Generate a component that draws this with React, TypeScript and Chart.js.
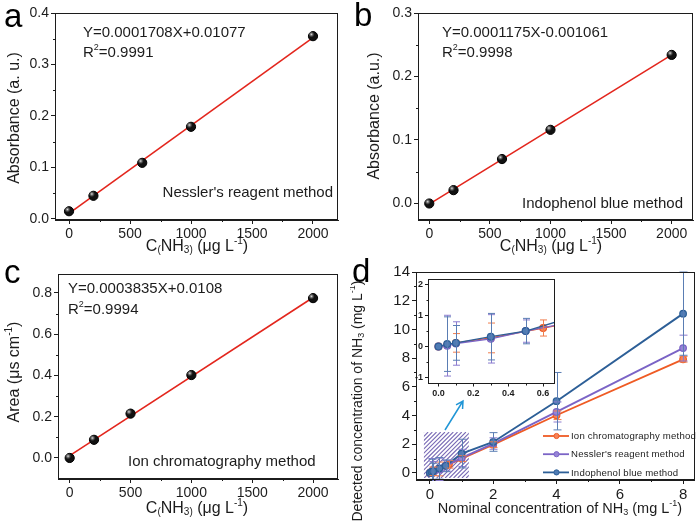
import React, { useEffect, useRef } from 'react';
import { Chart, registerables } from 'chart.js';
Chart.register(...registerables);

const FONT = '"Liberation Sans", Arial, Helvetica, sans-serif';
const INK = '#1c1c1c';
const FIT_RED = '#e3261d';

// ---------- Panel a: Nessler's reagent calibration ----------
const nesslerX = [0, 200, 600, 1000, 2000];
const nesslerY = [0.015, 0.045, 0.109, 0.179, 0.355];
const nesslerFitX = [0, 2000];
const nesslerFitY = [0.011, 0.352];
const nesslerYTicks = [0, 0.1, 0.2, 0.3, 0.4];
const nesslerYMinor = [0.05, 0.15, 0.25, 0.35];

// ---------- Panel b: Indophenol blue calibration ----------
const indoX = [0, 200, 600, 1000, 2000];
const indoY = [0.0, 0.021, 0.07, 0.116, 0.234];
const indoFitX = [0, 2000];
const indoFitY = [-0.001, 0.234];
const indoYTicks = [0, 0.1, 0.2, 0.3];
const indoYMinor = [0.05, 0.15, 0.25];

// ---------- Panel c: Ion chromatography calibration ----------
const ionX = [0, 200, 500, 1000, 2000];
const ionY = [0.0, 0.088, 0.215, 0.402, 0.775];
const ionFitX = [0, 2000];
const ionFitY = [0.011, 0.778];
const ionYTicks = [0, 0.2, 0.4, 0.6, 0.8];
const ionYMinor = [0.1, 0.3, 0.5, 0.7];

const calXTicks = [0, 500, 1000, 1500, 2000];
const calXMinor = [250, 750, 1250, 1750];

// ---------- Panel d: detected vs nominal ----------
const dIonX = [0, 0.05, 0.1, 0.3, 0.6, 1, 2, 4, 8];
const dIonY = [0, 0.05, 0.12, 0.28, 0.6, 1.0, 1.97, 4.02, 7.92];
const dIonErr = [0, 0, 0.3, 0.48, 0.26, 0.2, 0.2, 0.3, 0.2];
const dNessX = [0, 0.05, 0.1, 0.3, 0.5, 1, 2, 4, 8];
const dNessY = [0, 0.03, 0.1, 0.25, 0.5, 1.05, 2.05, 4.25, 8.7];
const dNessErr = [0, 0.98, 0.7, 0.78, 0.36, 0.6, 0.4, 0.7, 0.9];
const dIndoX = [0, 0.05, 0.1, 0.3, 0.5, 1, 2, 4, 8];
const dIndoY = [0, 0.08, 0.12, 0.32, 0.5, 1.35, 2.16, 5.0, 11.1];
const dIndoErr = [0, 0.88, 0.56, 0.75, 0.41, 1.0, 0.65, 2.0, 2.9];
const dXTicks = [0, 2, 4, 6, 8];
const dXMinor = [1, 3, 5, 7];
const dYTicks = [0, 2, 4, 6, 8, 10, 12, 14];
const dYMinor = [1, 3, 5, 7, 9, 11, 13];
const zoomBoxX = [-0.19, 1.23];
const zoomBoxY = [-0.35, 2.85];
const insetXTicks = [0, 0.2, 0.4, 0.6];
const insetXMinor = [0.1, 0.3, 0.5];
const insetYTicks = [-1, 0, 1, 2];
const insetYMinor = [-0.5, 0.5, 1.5];

const ORANGE = '#ef5b24';
const PURPLE = '#7b64c6';
const BLUE = '#2d5f97';

type Series = { name: string; xs: number[]; ys: number[]; err: number[]; color: string; errColor: string; fill: string };
const dSeries: Series[] = [
  { name: 'Indophenol blue method', xs: dIndoX, ys: dIndoY, err: dIndoErr, color: BLUE, errColor: '#5a7db3', fill: '#4f7bb4' },
  { name: "Nessler's reagent method", xs: dNessX, ys: dNessY, err: dNessErr, color: PURPLE, errColor: '#8c7ccf', fill: '#9684d6' },
  { name: 'Ion chromatography method', xs: dIonX, ys: dIonY, err: dIonErr, color: ORANGE, errColor: '#f07e4e', fill: '#f5845a' },
];

type Seg = { t: string; s?: 'sub' | 'sup' };

function drawRich(
  ctx: CanvasRenderingContext2D, segs: Seg[], x: number, y: number, size: number,
  align: 'left' | 'center' | 'right' = 'left', rot = 0, color = INK,
) {
  ctx.save();
  ctx.translate(x, y);
  if (rot) ctx.rotate(rot);
  ctx.fillStyle = color;
  ctx.textBaseline = 'middle';
  ctx.textAlign = 'left';
  const fs = (s?: string) => (s ? Math.round(size * 0.62) : size);
  let w = 0;
  for (const g of segs) {
    ctx.font = `${fs(g.s)}px ${FONT}`;
    w += ctx.measureText(g.t).width;
  }
  let cx = align === 'center' ? -w / 2 : align === 'right' ? -w : 0;
  for (const g of segs) {
    ctx.font = `${fs(g.s)}px ${FONT}`;
    const dy = g.s === 'sub' ? size * 0.22 : g.s === 'sup' ? -size * 0.36 : 0;
    ctx.fillText(g.t, cx, dy);
    cx += ctx.measureText(g.t).width;
  }
  ctx.restore();
}

function drawLetter(ctx: CanvasRenderingContext2D, t: string, x: number, y: number) {
  ctx.save();
  ctx.fillStyle = '#000';
  ctx.font = `33px ${FONT}`;
  ctx.textBaseline = 'alphabetic';
  ctx.textAlign = 'left';
  ctx.fillText(t, x, y);
  ctx.restore();
}

function drawFrame(chart: any, xMinor: number[], yMinor: number[], minorLen: number) {
  const ctx: CanvasRenderingContext2D = chart.ctx;
  const { left, right, top, bottom } = chart.chartArea;
  const xs = chart.scales.x;
  const ys = chart.scales.y;
  ctx.save();
  ctx.strokeStyle = INK;
  ctx.lineWidth = 1;
  const L = Math.round(left) + 0.5, R = Math.round(right) - 0.5, T = Math.round(top) + 0.5, B = Math.round(bottom) - 0.5;
  ctx.strokeRect(L, T, R - L, B - T);
  ctx.beginPath();
  for (const v of xMinor) {
    const px = Math.round(xs.getPixelForValue(v)) + 0.5;
    ctx.moveTo(px, B);
    ctx.lineTo(px, B + minorLen);
  }
  for (const v of yMinor) {
    const py = Math.round(ys.getPixelForValue(v)) + 0.5;
    ctx.moveTo(L, py);
    ctx.lineTo(L - minorLen, py);
  }
  ctx.stroke();
  ctx.restore();
}

function axisCommon(ticks: number[], fmt: (v: number) => string, size: number, tickLen: number, bold = false) {
  return {
    type: 'linear' as const,
    afterBuildTicks: (s: any) => { s.ticks = ticks.map((v) => ({ value: v })); },
    ticks: {
      font: { family: FONT, size, weight: bold ? 'bold' : 'normal' },
      color: INK,
      padding: 2,
      maxRotation: 0,
      autoSkip: false,
      callback: (v: any) => fmt(Number(v)),
    },
    grid: { display: true, drawOnChartArea: false, drawTicks: true, tickLength: tickLen, tickColor: INK, tickWidth: 1 },
    border: { display: true, color: INK, width: 1 },
    title: { display: false },
  };
}

type CalSpec = {
  xs: number[]; ys: number[]; fitX: number[]; fitY: number[];
  yTicks: number[]; yMinor: number[];
  xRange: [number, number]; yRange: [number, number];
  pad: { top: number; right: number }; yW: number; xH: number;
  letter: [string, number, number];
  eq: Seg[][]; eqPos: [number, number, number];
  method: string; methodPos: [number, number, 'left' | 'right'];
  xTitle: Seg[]; xTitlePos: [number, number];
  yTitle: Seg[]; yTitlePos: [number, number];
};

function makeCal(canvas: HTMLCanvasElement, p: CalSpec): Chart {
  const plugin = {
    id: 'calDeco',
    afterDatasetsDraw(chart: any) {
      const ctx: CanvasRenderingContext2D = chart.ctx;
      const meta = chart.getDatasetMeta(0);
      ctx.save();
      for (const el of meta.data) {
        const g = ctx.createRadialGradient(el.x - 1.6, el.y - 1.8, 0, el.x - 1.6, el.y - 1.8, 3.2);
        g.addColorStop(0, 'rgba(235,235,235,0.95)');
        g.addColorStop(1, 'rgba(120,120,120,0)');
        ctx.fillStyle = g;
        ctx.beginPath();
        ctx.arc(el.x - 1.2, el.y - 1.3, 3.2, 0, Math.PI * 2);
        ctx.fill();
      }
      ctx.restore();
    },
    afterDraw(chart: any) {
      const ctx: CanvasRenderingContext2D = chart.ctx;
      drawFrame(chart, calXMinor, p.yMinor, 2.5);
      drawLetter(ctx, p.letter[0], p.letter[1], p.letter[2]);
      p.eq.forEach((line, i) => drawRich(ctx, line, p.eqPos[0], p.eqPos[1] + i * p.eqPos[2], 15, 'left'));
      drawRich(ctx, [{ t: p.method }], p.methodPos[0], p.methodPos[1], 15, p.methodPos[2]);
      drawRich(ctx, p.xTitle, p.xTitlePos[0], p.xTitlePos[1], 16, 'center');
      drawRich(ctx, p.yTitle, p.yTitlePos[0], p.yTitlePos[1], 16, 'center', -Math.PI / 2);
    },
  };
  return new Chart(canvas, {
    type: 'scatter',
    data: {
      datasets: [
        {
          data: p.xs.map((x, i) => ({ x, y: p.ys[i] })),
          pointRadius: 4.6, pointBackgroundColor: '#111', pointBorderColor: '#000', pointBorderWidth: 1,
          showLine: false,
        },
        {
          data: p.fitX.map((x, i) => ({ x, y: p.fitY[i] })),
          showLine: true, borderColor: FIT_RED, borderWidth: 1.6, pointRadius: 0,
        },
      ] as any,
    },
    options: {
      responsive: false,
      animation: false,
      layout: { padding: { top: p.pad.top, right: p.pad.right, left: 0, bottom: 0 } },
      plugins: { legend: { display: false }, tooltip: { enabled: false } },
      scales: {
        x: { ...axisCommon(calXTicks, (v) => String(v), 14, 4), min: p.xRange[0], max: p.xRange[1], afterFit: (s: any) => { s.height = p.xH; } } as any,
        y: { ...axisCommon(p.yTicks, (v) => v.toFixed(1), 14, 4), min: p.yRange[0], max: p.yRange[1], afterFit: (s: any) => { s.width = p.yW; } } as any,
      },
    },
    plugins: [plugin],
  });
}

const calXTitle: Seg[] = [
  { t: 'C' }, { t: '(', s: 'sub' }, { t: 'NH' }, { t: '3', s: 'sub' }, { t: ')', s: 'sub' },
  { t: ' (μg L' }, { t: '-1', s: 'sup' }, { t: ')' },
];

function makeD(canvas: HTMLCanvasElement, inset: boolean): Chart {
  const cap = inset ? 3.5 : 4;
  const plugin = {
    id: inset ? 'insetDeco' : 'dDeco',
    beforeDraw(chart: any) {
      if (!inset) return;
      const { left, right, top, bottom } = chart.chartArea;
      const ctx = chart.ctx;
      ctx.save();
      ctx.fillStyle = '#fff';
      ctx.fillRect(left, top, right - left, bottom - top);
      ctx.restore();
    },
    beforeDatasetsDraw(chart: any) {
      if (inset) return;
      const ctx: CanvasRenderingContext2D = chart.ctx;
      const xs = chart.scales.x, ys = chart.scales.y;
      const x0 = xs.getPixelForValue(zoomBoxX[0]), x1 = xs.getPixelForValue(zoomBoxX[1]);
      const y0 = ys.getPixelForValue(zoomBoxY[1]), y1 = ys.getPixelForValue(zoomBoxY[0]);
      ctx.save();
      ctx.beginPath();
      ctx.rect(x0, y0, x1 - x0, y1 - y0);
      ctx.clip();
      ctx.strokeStyle = 'rgba(98,80,168,0.85)';
      ctx.lineWidth = 1.1;
      const h = y1 - y0;
      ctx.beginPath();
      for (let k = -h; k < x1 - x0 + h; k += 4.2) {
        ctx.moveTo(x0 + k, y1);
        ctx.lineTo(x0 + k + h, y0);
      }
      ctx.stroke();
      ctx.restore();
    },
    afterDatasetsDraw(chart: any) {
      const ctx: CanvasRenderingContext2D = chart.ctx;
      const xs = chart.scales.x, ys = chart.scales.y;
      const { left, right, top, bottom } = chart.chartArea;
      ctx.save();
      ctx.beginPath();
      ctx.rect(left, top - 1, right - left, bottom - top + 2);
      ctx.clip();
      for (let si = dSeries.length - 1; si >= 0; si--) {
        const s = dSeries[si];
        ctx.strokeStyle = s.errColor;
        ctx.lineWidth = 1;
        ctx.beginPath();
        s.xs.forEach((xv, i) => {
          const e = s.err[i];
          if (!e) return;
          const px = Math.round(xs.getPixelForValue(xv)) + 0.5;
          const p1 = ys.getPixelForValue(s.ys[i] + e);
          const p2 = ys.getPixelForValue(s.ys[i] - e);
          ctx.moveTo(px, p1); ctx.lineTo(px, p2);
          ctx.moveTo(px - cap, p1); ctx.lineTo(px + cap, p1);
          ctx.moveTo(px - cap, p2); ctx.lineTo(px + cap, p2);
        });
        ctx.stroke();
      }
      ctx.restore();
    },
    afterDraw(chart: any) {
      const ctx: CanvasRenderingContext2D = chart.ctx;
      if (inset) {
        drawFrame(chart, insetXMinor, insetYMinor, 2);
        return;
      }
      drawFrame(chart, dXMinor, dYMinor, 2.5);
      drawLetter(ctx, 'd', 2, 27);
      // legend
      const order = [2, 1, 0];
      order.forEach((si, row) => {
        const s = dSeries[si];
        const y = 181 + row * 18.2;
        ctx.save();
        ctx.strokeStyle = s.color;
        ctx.lineWidth = 1.8;
        ctx.beginPath();
        ctx.moveTo(193, y);
        ctx.lineTo(219, y);
        ctx.stroke();
        ctx.fillStyle = s.fill;
        ctx.lineWidth = 1;
        ctx.beginPath();
        ctx.arc(206.5, y, 2.6, 0, Math.PI * 2);
        ctx.fill();
        ctx.stroke();
        ctx.fillStyle = INK;
        ctx.font = `9.6px ${FONT}`;
        (ctx as any).letterSpacing = '0.2px';
        ctx.textBaseline = 'middle';
        ctx.textAlign = 'left';
        ctx.fillText(s.name, 221, y + 0.5);
        ctx.restore();
      });
      // arrow
      ctx.save();
      ctx.strokeStyle = '#2196d6';
      ctx.lineWidth = 1.5;
      const ax0 = 95, ay0 = 175, ax1 = 113, ay1 = 146;
      ctx.beginPath();
      ctx.moveTo(ax0, ay0);
      ctx.lineTo(ax1, ay1);
      const ang = Math.atan2(ay1 - ay0, ax1 - ax0);
      const hl = 8;
      ctx.moveTo(ax1 - hl * Math.cos(ang - 0.5), ay1 - hl * Math.sin(ang - 0.5));
      ctx.lineTo(ax1, ay1);
      ctx.lineTo(ax1 - hl * Math.cos(ang + 0.5), ay1 - hl * Math.sin(ang + 0.5));
      ctx.stroke();
      ctx.restore();
      const nh: Seg[] = [{ t: 'NH' }, { t: '3', s: 'sub' }, { t: ' (mg L' }, { t: '-1', s: 'sup' }, { t: ')' }];
      drawRich(ctx, [{ t: 'Nominal concentration of ' }, ...nh], 210, 254, 14.5, 'center');
      drawRich(ctx, [{ t: 'Detected concentration of ' }, ...nh], 8, 146, 14, 'center', -Math.PI / 2);
    },
  };

  const datasets = dSeries.map((s) => ({
    data: s.xs.map((x, i) => ({ x, y: s.ys[i] })),
    showLine: true,
    borderColor: s.color,
    borderWidth: inset ? 1.3 : 1.9,
    pointRadius: inset ? 3.4 : 3.3,
    pointBackgroundColor: s.fill,
    pointBorderColor: s.color,
    pointBorderWidth: 1.2,
  }));

  const xFmt = inset ? (v: number) => v.toFixed(1) : (v: number) => String(v);
  return new Chart(canvas, {
    type: 'scatter',
    data: { datasets: datasets as any },
    options: {
      responsive: false,
      animation: false,
      layout: { padding: inset ? { top: 11, right: 5, left: 0, bottom: 0 } : { top: 17, right: 3, left: 0, bottom: 0 } },
      plugins: { legend: { display: false }, tooltip: { enabled: false } },
      scales: {
        x: {
          ...axisCommon(inset ? insetXTicks : dXTicks, xFmt, inset ? 9 : 15, inset ? 3 : 4, inset),
          min: inset ? -0.06 : -0.44, max: inset ? 0.667 : 8.37,
          afterFit: (s: any) => { s.height = inset ? 16.5 : 45; },
        } as any,
        y: {
          ...axisCommon(inset ? insetYTicks : dYTicks, (v) => String(v), inset ? 9 : 15, inset ? 3 : 4, inset),
          min: inset ? -1.19 : -0.49, max: inset ? 2.18 : 14,
          afterFit: (s: any) => { s.width = inset ? 28 : 66; },
        } as any,
      },
    },
    plugins: [plugin],
  });
}

export default function App() {
  const ra = useRef<HTMLCanvasElement>(null);
  const rb = useRef<HTMLCanvasElement>(null);
  const rc = useRef<HTMLCanvasElement>(null);
  const rd = useRef<HTMLCanvasElement>(null);
  const ri = useRef<HTMLCanvasElement>(null);

  useEffect(() => {
    const charts: Chart[] = [];
    charts.push(makeCal(ra.current!, {
      xs: nesslerX, ys: nesslerY, fitX: nesslerFitX, fitY: nesslerFitY,
      yTicks: nesslerYTicks, yMinor: nesslerYMinor,
      xRange: [-115, 2205], yRange: [-0.002, 0.4],
      pad: { top: 13, right: 12 }, yW: 55, xH: 42,
      letter: ['a', 4, 27],
      eq: [[{ t: 'Y=0.0001708X+0.01077' }], [{ t: 'R' }, { t: '2', s: 'sup' }, { t: '=0.9991' }]],
      eqPos: [83, 33, 20],
      method: "Nessler's reagent method", methodPos: [333, 193, 'right'],
      xTitle: calXTitle, xTitlePos: [197, 247],
      yTitle: [{ t: 'Absorbance (a. u.)' }], yTitlePos: [15, 118],
    }));
    charts.push(makeCal(rb.current!, {
      xs: indoX, ys: indoY, fitX: indoFitX, fitY: indoFitY,
      yTicks: indoYTicks, yMinor: indoYMinor,
      xRange: [-93, 2176], yRange: [-0.026, 0.3],
      pad: { top: 13, right: 7 }, yW: 68, xH: 42,
      letter: ['b', 4, 26],
      eq: [[{ t: 'Y=0.0001175X-0.001061' }], [{ t: 'R' }, { t: '2', s: 'sup' }, { t: '=0.9998' }]],
      eqPos: [92, 33, 20],
      method: 'Indophenol blue method', methodPos: [333, 204, 'right'],
      xTitle: calXTitle, xTitlePos: [201, 247],
      yTitle: [{ t: 'Absorbance (a.u.)' }], yTitlePos: [25, 116],
    }));
    charts.push(makeCal(rc.current!, {
      xs: ionX, ys: ionY, fitX: ionFitX, fitY: ionFitY,
      yTicks: ionYTicks, yMinor: ionYMinor,
      xRange: [-96, 2205], yRange: [-0.102, 0.892],
      pad: { top: 12, right: 12 }, yW: 58, xH: 46,
      letter: ['c', 4, 21],
      eq: [[{ t: 'Y=0.0003835X+0.0108' }], [{ t: 'R' }, { t: '2', s: 'sup' }, { t: '=0.9994' }]],
      eqPos: [68, 27, 21],
      method: 'Ion chromatography method', methodPos: [128, 200, 'left'],
      xTitle: calXTitle, xTitlePos: [197, 247],
      yTitle: [{ t: 'Area (μs cm' }, { t: '-1', s: 'sup' }, { t: ')' }], yTitlePos: [15, 110],
    }));
    charts.push(makeD(rd.current!, false));
    charts.push(makeD(ri.current!, true));
    return () => charts.forEach((c) => c.destroy());
  }, []);

  const abs = (l: number, t: number): React.CSSProperties => ({ position: 'absolute', left: l, top: t });
  return (
    <div style={{ position: 'absolute', left: 0, top: 0, width: 700, height: 525, background: '#fff', overflow: 'hidden' }}>
      <canvas ref={ra} width={350} height={262} style={abs(0, 0)} />
      <canvas ref={rb} width={350} height={262} style={abs(350, 0)} />
      <canvas ref={rc} width={350} height={263} style={abs(0, 262)} />
      <canvas ref={rd} width={350} height={270} style={abs(350, 255)} />
      <canvas ref={ri} width={160} height={132} style={abs(400, 268)} />
    </div>
  );
}
